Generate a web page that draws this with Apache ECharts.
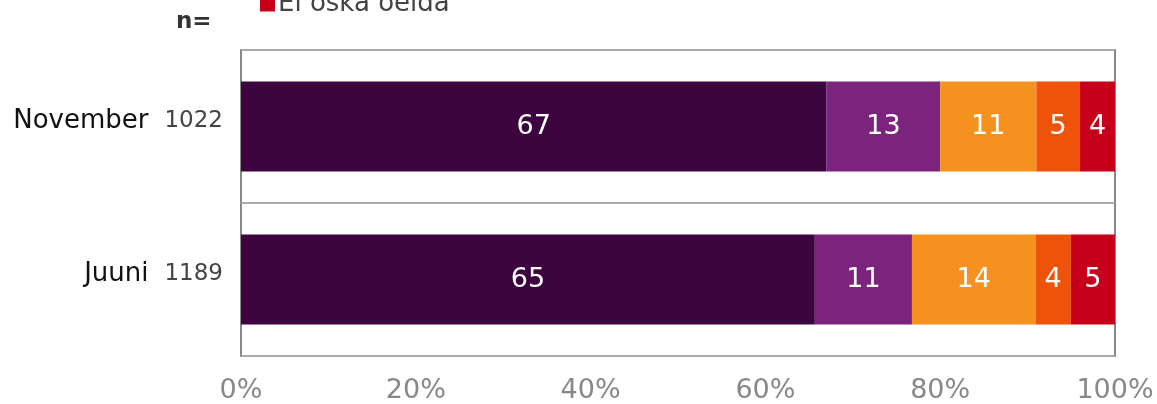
<!DOCTYPE html>
<html>
<head>
<meta charset="utf-8">
<script src="https://cdn.jsdelivr.net/npm/echarts@6/dist/echarts.min.js"></script>
<style>
  html, body { margin: 0; padding: 0; background: #fff; }
  #chart { width: 1157px; height: 404px; }
</style>
</head>
<body>
<div id="chart"></div>
<script>
const categories = ['November', 'Juuni'];
const sampleSizes = [1022, 1189];
const seriesNames = ['Kindlasti jah', 'Pigem jah', 'Pigem ei', 'Kindlasti ei', 'Ei oska öelda'];
const colors = ['#3c053f', '#7b237d', '#f5921f', '#ef5209', '#c6001b'];
// percentages per answer, one array per answer, in category order
const answers = [
  [67, 65],
  [13, 11],
  [11, 14],
  [5, 4],
  [4, 5]
];
const xTicks = [0, 20, 40, 60, 80, 100];

// 100% stacked: each bar is scaled to its row total
const totals = categories.map((c, i) => answers.reduce((s, a) => s + a[i], 0));

const font = 'DejaVu Sans';

const series = seriesNames.map((name, k) => ({
  name: name,
  type: 'bar',
  stack: 'all',
  barWidth: 90,
  itemStyle: { color: colors[k] },
  label: {
    show: true,
    color: '#fff',
    fontFamily: font,
    fontSize: 27,
    formatter: p => answers[k][p.dataIndex]
  },
  data: answers[k].map((v, i) => v / totals[i] * 100)
}));

const chart = echarts.init(document.getElementById('chart'));
chart.setOption({
  animation: false,
  textStyle: { fontFamily: font },
  title: {
    text: 'n=',
    left: 171,
    top: 6,
    textStyle: { fontFamily: font, fontSize: 23, fontWeight: 'bold', color: '#333' }
  },
  legend: {
    data: ['Ei oska öelda'],
    left: 255,
    top: -14,
    icon: 'rect',
    itemWidth: 15,
    itemHeight: 15,
    itemGap: 8,
    selectedMode: false,
    textStyle: { fontFamily: font, fontSize: 26, color: '#444', padding: [0, 0, 0, -2] }
  },
  grid: {
    left: 241,
    right: 42,
    top: 50,
    bottom: 48,
    show: true,
    borderColor: '#888',
    borderWidth: 2
  },
  xAxis: {
    type: 'value',
    min: xTicks[0],
    max: xTicks[xTicks.length - 1],
    interval: xTicks[1] - xTicks[0],
    axisLine: { show: false },
    axisTick: { show: false },
    splitLine: { show: false },
    axisLabel: {
      formatter: '{value}%',
      color: '#888',
      fontSize: 27,
      fontFamily: font,
      margin: 21
    }
  },
  yAxis: {
    type: 'category',
    inverse: true,
    data: categories,
    axisLine: { show: false },
    axisTick: { show: false },
    splitLine: { show: true, lineStyle: { color: '#aaa', width: 2 } },
    axisLabel: {
      margin: 18,
      padding: [0, 0, 10, 0],
      formatter: (v, i) => '{name|' + v + '}{n|' + sampleSizes[i] + '}',
      rich: {
        name: { fontFamily: font, fontSize: 26, color: '#111' },
        n: { fontFamily: font, fontSize: 23, color: '#444', padding: [0, 0, 0, 16] }
      }
    }
  },
  series: series
});
</script>
</body>
</html>
